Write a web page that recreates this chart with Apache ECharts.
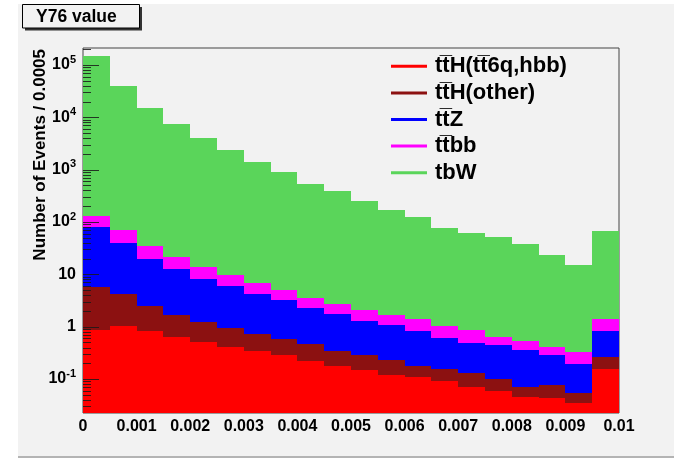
<!DOCTYPE html>
<html>
<head>
<meta charset="utf-8">
<script src="https://cdn.jsdelivr.net/npm/echarts@6/dist/echarts.min.js"></script>
<style>
  html, body { margin: 0; padding: 0; background: #ffffff; }
  #pad { position: absolute; left: 18px; top: 4px; width: 656px; height: 452px; background: #f2f2f2; border-bottom: 2px solid #b4b4b4; }
  #chart { position: absolute; left: 0; top: 0; width: 674px; height: 458px; }
</style>
</head>
<body>
<div id="pad"></div>
<div id="chart"></div>
<script>
// ---- data ----
const xMin = 0;
const xMax = 0.01;
const binWidth = 0.0005;
const seriesNames = ['tt\u0305H(tt\u03056q,hbb)', 'tt\u0305H(other)', 'tt\u0305Z', 'tt\u0305bb', 'tbW'];
const seriesColors = ['#ff0000', '#8c1111', '#0000ff', '#ff00ff', '#5ad55a'];
const ttH_6q_hbb = [0.88, 1.05, 0.81, 0.64, 0.50, 0.415, 0.338, 0.283, 0.221, 0.175, 0.151, 0.121, 0.108, 0.093, 0.0705, 0.058, 0.0446, 0.0428, 0.0349, 0.158];
const ttH_other  = [4.85, 3.22, 1.71, 1.06, 0.75, 0.53, 0.40, 0.30, 0.247, 0.163, 0.132, 0.11, 0.072, 0.065, 0.0575, 0.041, 0.027, 0.035, 0.020, 0.101];
const ttZ        = [73.2, 35.4, 17.1, 11.1, 7.0, 4.95, 3.53, 2.66, 1.81, 1.43, 1.02, 0.86, 0.66, 0.44, 0.353, 0.341, 0.281, 0.205, 0.139, 0.58];
const ttbb       = [53, 29.3, 14.6, 8.6, 5.3, 3.8, 2.57, 1.85, 1.19, 0.98, 0.75, 0.61, 0.56, 0.45, 0.37, 0.204, 0.188, 0.119, 0.134, 0.58];
const tbW        = [145900, 39530, 15170, 7530, 3936, 2360, 1393, 897, 535, 381, 253, 167, 125, 76.8, 61.6, 50.2, 36.8, 23.0, 14.5, 66.8];
const yMin = 0.02246;
const yMax = 211000;
const yTickExponents = [-2, -1, 0, 1, 2, 3, 4, 5];

// ---- build stacked rectangles ----
const layers = [ttH_6q_hbb, ttH_other, ttZ, ttbb, tbW];
const cum = new Array(ttH_6q_hbb.length).fill(0);
const series = [];
layers.forEach(function (vals, k) {
  const data = vals.map(function (v, i) {
    const lo = cum[i] > 0 ? cum[i] : yMin;
    cum[i] += v;
    return [xMin + i * binWidth, xMin + (i + 1) * binWidth, lo, cum[i]];
  });
  series.push({
    type: 'custom',
    name: seriesNames[k],
    itemStyle: { color: seriesColors[k] },
    encode: { x: [0, 1], y: [2, 3] },
    data: data,
    z: 2,
    silent: true,
    renderItem: function (params, api) {
      const p0 = api.coord([api.value(0), api.value(3)]);
      const p1 = api.coord([api.value(1), api.value(2)]);
      const cs = params.coordSys;
      const x0 = Math.round(p0[0]), x1 = Math.round(p1[0]);
      const y0 = Math.round(p0[1]), y1 = Math.round(p1[1]);
      const r = echarts.graphic.clipRectByRect(
        { x: x0, y: y0, width: x1 - x0, height: y1 - y0 },
        { x: cs.x, y: cs.y, width: cs.width, height: cs.height });
      if (!r) return null;
      return { type: 'rect', shape: r, style: { fill: api.visual('color') } };
    }
  });
});

// y ticks (log style: majors at decades, minors at 2..9)
const tickData = [];
yTickExponents.forEach(function (e) {
  for (let m = 1; m <= 9; m++) {
    const v = m * Math.pow(10, e);
    if (v >= yMin && v <= yMax) tickData.push([xMin, v, m === 1 ? 16 : 8]);
  }
});
series.push({
  type: 'custom',
  name: 'ticks',
  encode: { x: 0, y: 1 },
  data: tickData,
  z: 5,
  silent: true,
  renderItem: function (params, api) {
    const p = api.coord([api.value(0), api.value(1)]);
    const y = Math.round(p[1]) + 0.5;
    return { type: 'line', shape: { x1: p[0], y1: y, x2: p[0] + api.value(2), y2: y },
             style: { stroke: '#1a1a1a', lineWidth: 1, opacity: 0.85 } };
  }
});

const chart = echarts.init(document.getElementById('chart'), null, { renderer: 'canvas' });
chart.setOption({
  animation: false,
  backgroundColor: 'transparent',
  textStyle: { fontFamily: 'Liberation Sans, Arial, sans-serif' },
  grid: { left: 83, right: 55, top: 48, bottom: 45, show: true, borderColor: '#444', borderWidth: 1, backgroundColor: 'transparent' },
  legend: {
    data: seriesNames,
    orient: 'vertical',
    left: 391, top: 53,
    padding: 0,
    itemGap: 0,
    itemWidth: 36, itemHeight: 3,
    icon: 'rect',
    selectedMode: false,
    textStyle: { fontSize: 22, fontWeight: 'bold', color: '#000', lineHeight: 26.6, padding: [0, 0, 0, 3] }
  },
  xAxis: {
    type: 'value', min: xMin, max: xMax, interval: 0.001,
    axisLine: { show: false }, axisTick: { show: false }, splitLine: { show: false },
    axisLabel: { fontSize: 16, fontWeight: 'bold', color: '#000', margin: 6,
      formatter: function (v) { return String(+v.toFixed(4)); } }
  },
  yAxis: {
    type: 'log', logBase: 10, min: yMin, max: yMax,
    axisLine: { show: false }, axisTick: { show: false }, splitLine: { show: false },
    axisLabel: {
      margin: 7, color: '#000',
      formatter: function (v) {
        const e = Math.log10(v);
        const r = Math.round(e);
        if (Math.abs(e - r) > 1e-6) return '';
        if (r === 0) return '{b|1}';
        if (r === 1) return '{b|10}';
        return '{b|10}{s|' + r + '}';
      },
      rich: {
        b: { fontSize: 16, fontWeight: 'bold', color: '#000', lineHeight: 22, fontFamily: 'Liberation Sans' },
        s: { fontSize: 11, fontWeight: 'bold', color: '#000', lineHeight: 12, verticalAlign: 'top', fontFamily: 'Liberation Sans' }
      }
    }
  },
  graphic: [
    { type: 'rect', shape: { x: 25, y: 7, width: 117, height: 23.5 }, style: { fill: '#333' } },
    { type: 'rect', shape: { x: 22.5, y: 4.5, width: 117, height: 23.5 }, style: { fill: '#f2f2f2', stroke: '#000', lineWidth: 1 } },
    { type: 'text', x: 36, y: 17, style: { text: 'Y76 value', font: 'bold 17.5px "Liberation Sans", Arial, sans-serif', fill: '#000', verticalAlign: 'middle' } },
    { type: 'text', x: 40, y: 49, rotation: Math.PI / 2,
      style: { text: 'Number of Events / 0.0005', font: 'bold 17px "Liberation Sans", Arial, sans-serif', fill: '#000', align: 'right', verticalAlign: 'middle' } }
  ],
  series: series
});
</script>
</body>
</html>
